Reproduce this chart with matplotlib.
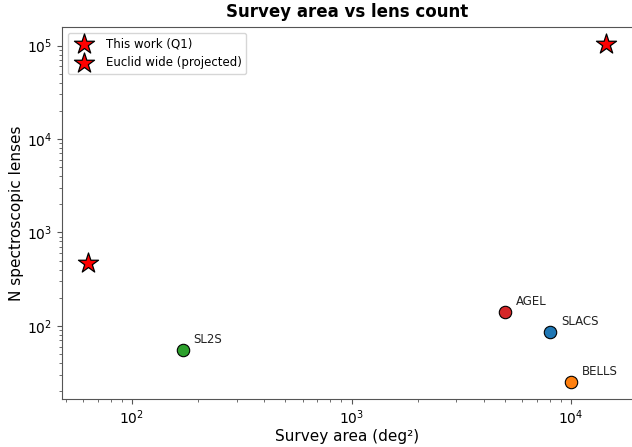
import matplotlib
matplotlib.use("Agg")
import matplotlib.pyplot as plt

# Survey data: area in square degrees, number of spectroscopic lenses
surveys = ["SLACS", "BELLS", "SL2S", "AGEL"]
survey_area = [8000, 10000, 170, 5000]
survey_lenses = [85, 25, 55, 140]
survey_colors = ["tab:blue", "tab:orange", "tab:green", "tab:red"]

q1_area, q1_lenses = 63, 470
wide_area, wide_lenses = 14500, 105000

fig = plt.figure(figsize=(6.32, 4.47), dpi=100)
ax = fig.add_axes([0.0981, 0.1074, 0.9025, 0.8329])

for name, a, n, c in zip(surveys, survey_area, survey_lenses, survey_colors):
    ax.scatter(a, n, s=80, color=c, edgecolor="black", linewidth=0.8, zorder=3)
    ax.annotate(name, (a, n), xytext=(8, 5), textcoords="offset points",
                fontsize=8.5, color="#222222")

ax.scatter(q1_area, q1_lenses, marker="*", s=230, color="red",
           edgecolor="black", linewidth=0.9, zorder=4, label="This work (Q1)")
ax.scatter(wide_area, wide_lenses, marker="*", s=230, color="red",
           edgecolor="black", linewidth=0.9, zorder=4, label="Euclid wide (projected)")

ax.set_xscale("log")
ax.set_yscale("log")
ax.set_xlabel("Survey area (deg²)", fontsize=11, labelpad=1)
ax.set_ylabel("N spectroscopic lenses", fontsize=11, labelpad=2)
ax.set_title("Survey area vs lens count", fontsize=12, fontweight="bold", pad=7)
ax.legend(loc="upper left", fontsize=8.5)

for sp in ax.spines.values():
    sp.set_color("#555555")
ax.spines["right"].set_visible(False)
ax.tick_params(which="both", color="#555555")

fig.savefig("out.png", dpi=100)
